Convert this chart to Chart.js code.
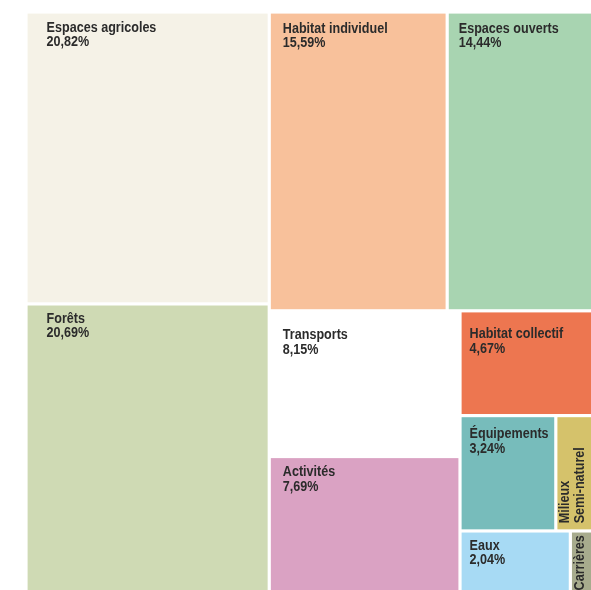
<!DOCTYPE html>
<html lang="fr">
<head>
<meta charset="utf-8">
<title>Occupation du sol</title>
<script src="https://cdn.jsdelivr.net/npm/chart.js@4.4.1/dist/chart.umd.min.js"></script>
<style>
html, body{
  margin:0;
  padding:0;
  background:#ffffff;
  overflow:hidden;
}
#wrap{
  position:absolute;
  left:0;
  top:0;
  width:612px;
  height:594px;
}
</style>
</head>
<body>
<div id="wrap"><canvas id="treemapChart"></canvas></div>
<script>

/* ===================================================== */
/* DONNEES */
/* ===================================================== */

const categories = [
  ["Espaces agricoles"],
  ["Forêts"],
  ["Habitat individuel"],
  ["Espaces ouverts"],
  ["Transports"],
  ["Activités"],
  ["Habitat collectif"],
  ["Équipements"],
  ["Milieux", "Semi-naturel"],
  ["Eaux"],
  ["Carrières"]
];

const shares = [20.82, 20.69, 15.59, 14.44, 8.15, 7.69, 4.67, 3.24, 1.90, 2.04, 0.77];

const showShare = [true, true, true, true, true, true, true, true, false, true, false];

/* ===================================================== */
/* STYLES */
/* ===================================================== */

const colors = [
  '#f5f2e7',
  '#cfdab4',
  '#f8c19b',
  '#a8d4b1',
  '#ffffff',
  '#daa2c3',
  '#ed7650',
  '#77bcbb',
  '#d5c26b',
  '#a7daf4',
  '#a7ab8d'
];

// decalage du texte dans chaque case [x, ligne de base]
const labelPad = [
  [19, 18], [19, 17], [12, 19], [10, 19], [12, 27], [12, 18],
  [8, 26], [8, 21], [12, 6], [8, 17], [12, 2]
];

const rotated = [false, false, false, false, false, false, false, false, true, false, true];

const GAP = 1.6;
const FONT = "bold 14.8px 'Liberation Sans', Arial, sans-serif";
const SQUEEZE = 0.85;
const LINE = 14.4;

/* ===================================================== */
/* SQUARIFY */
/* ===================================================== */

function worst(row, side){

  const s = row.reduce((a, b) => a + b, 0);
  const mx = Math.max(...row);
  const mn = Math.min(...row);

  return Math.max(side * side * mx / (s * s), (s * s) / (side * side * mn));

}

function squarify(values, w, h){

  const total = values.reduce((a, b) => a + b, 0);
  const areas = values.map(v => v * w * h / total);

  const out = [];
  let r = {x:0, y:0, w:w, h:h};
  let i = 0;

  while(i < areas.length){

    const side = Math.min(r.w, r.h);
    let row = [areas[i]];
    let j = i + 1;

    while(j < areas.length){
      const next = row.concat(areas[j]);
      if(worst(next, side) <= worst(row, side)){
        row = next;
        j++;
      } else break;
    }

    const s = row.reduce((a, b) => a + b, 0);
    const thick = s / side;
    let off = 0;

    if(r.w >= r.h){
      row.forEach(a => {
        const len = a / thick;
        out.push({x:r.x, y:r.y + off, w:thick, h:len});
        off += len;
      });
      r = {x:r.x + thick, y:r.y, w:r.w - thick, h:r.h};
    } else {
      row.forEach(a => {
        const len = a / thick;
        out.push({x:r.x + off, y:r.y, w:len, h:thick});
        off += len;
      });
      r = {x:r.x, y:r.y + thick, w:r.w, h:r.h - thick};
    }

    i = j;

  }

  // en fractions de la zone
  return out.map(c => ({x0:c.x / w, y0:c.y / h, x1:(c.x + c.w) / w, y1:(c.y + c.h) / h}));

}

function drawText(ctx, t, x, y){

  ctx.save();
  ctx.translate(x, y);
  ctx.scale(SQUEEZE, 1);
  ctx.fillText(t, 0, 0);
  ctx.restore();

}

/* ===================================================== */
/* PLUGIN TREEMAP */
/* ===================================================== */

const treemapPlugin = {
  id:'treemap',
  afterDatasetsDraw(chart){

    const ctx = chart.ctx;
    const area = chart.chartArea;
    const xs = chart.scales.x;
    const ys = chart.scales.y;

    const cells = squarify(shares, area.right - area.left, area.bottom - area.top);

    ctx.save();

    cells.forEach((c, i) => {

      const left = xs.getPixelForValue(c.x0) + GAP;
      const right = xs.getPixelForValue(c.x1) - GAP;
      const top = ys.getPixelForValue(c.y0) + GAP;
      const bottom = ys.getPixelForValue(c.y1) - GAP;

      ctx.fillStyle = colors[i];
      ctx.fillRect(left, top, right - left, bottom - top);

      const lines = categories[i].slice();
      if(showShare[i]){
        lines.push(shares[i].toFixed(2).replace('.', ',') + '%');
      }

      ctx.fillStyle = '#2b2b2b';
      ctx.font = FONT;
      ctx.textAlign = 'left';
      ctx.textBaseline = 'alphabetic';

      if(rotated[i]){
        ctx.save();
        ctx.translate(left, bottom - labelPad[i][1]);
        ctx.rotate(-Math.PI / 2);
        lines.forEach((t, k) => {
          drawText(ctx, t, 0, labelPad[i][0] + k * LINE);
        });
        ctx.restore();
      } else {
        lines.forEach((t, k) => {
          drawText(ctx, t, left + labelPad[i][0], top + labelPad[i][1] + k * LINE);
        });
      }

    });

    ctx.restore();

  }
};

/* ===================================================== */
/* CHART */
/* ===================================================== */

new Chart(
document.getElementById("treemapChart"),
{
  type:'scatter',
  data:{
    datasets:[{
      label:'Occupation du sol',
      data:[]
    }]
  },
  options:{
    responsive:true,
    maintainAspectRatio:false,
    animation:false,
    events:[],
    layout:{
      padding:{left:26, top:12, right:0, bottom:0}
    },
    scales:{
      x:{type:'linear', min:0, max:1, display:false},
      y:{type:'linear', min:0, max:1, reverse:true, display:false}
    },
    plugins:{
      legend:{display:false},
      tooltip:{enabled:false}
    }
  },
  plugins:[treemapPlugin]
});

</script>
</body>
</html>
